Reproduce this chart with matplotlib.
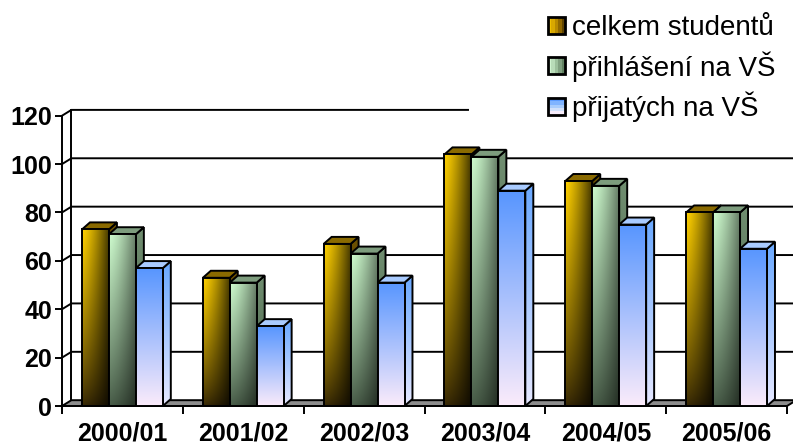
import numpy as np
import matplotlib
matplotlib.use('Agg')
import matplotlib.pyplot as plt
from matplotlib.patches import Polygon, Rectangle
from matplotlib.legend_handler import HandlerBase
from matplotlib.lines import Line2D

# ---------------- data ----------------
categories = ['2000/01', '2001/02', '2002/03', '2003/04', '2004/05', '2005/06']
celkem = [73, 53, 67, 104, 93, 80]
prihlaseni = [71, 51, 63, 103, 91, 80]
prijatych = [57, 33, 51, 89, 75, 65]
series_names = ['celkem studentů', 'přihlášení na VŠ', 'přijatých na VŠ']
yticks = [0, 20, 40, 60, 80, 100, 120]

plt.rcParams['font.family'] = ['Liberation Sans', 'DejaVu Sans']

# ---------------- style ----------------
BAR_W = 0.223
OFFS = [-0.223, 0.0, 0.223]
BDX, BDY = 0.066, 2.9     # bar depth (data units)
WDX, WDY = 0.078, 2.4     # wall depth (data units)
GRID_TOP_END = 2.86
LW = 1.4


def grad(top, bot, shade_amt=0.0, shade_pow=1.5, vpow=1.0):
    top = np.array(top) / 255.0
    bot = np.array(bot) / 255.0

    def f(U, V):
        t = (V ** vpow)[..., None]
        c = bot + (top - bot) * t
        s = 1 - shade_amt * U ** shade_pow
        return np.clip(c * s[..., None], 0, 1)
    return f


FRONT = [grad((255, 208, 0), (55, 40, 5), 0.72, 1.3, 0.8),
         grad((205, 250, 205), (72, 92, 72), 0.5, 1.4, 0.9),
         grad((88, 150, 255), (250, 235, 250), 0.0)]
SIDE = [grad((110, 82, 0), (45, 32, 0)),
        grad((112, 142, 112), (72, 95, 72)),
        grad((105, 168, 255), (230, 232, 255))]
TOPC = ['#8a6a00', '#7d9c7d', '#a9cbff']

fig = plt.figure(figsize=(7.93, 4.46), dpi=100)
ax = fig.add_axes([62 / 793, 1 - 406 / 446, 725 / 793, (406 - 115.7) / 446])


def shaded_poly(verts, func, z):
    poly = Polygon(verts, closed=True, facecolor='none', edgecolor='black',
                   linewidth=LW, zorder=z + 0.5, joinstyle='miter')
    ax.add_patch(poly)
    xs = [p[0] for p in verts]
    ys = [p[1] for p in verts]
    n = 64
    U, V = np.meshgrid(np.linspace(0, 1, n), np.linspace(1, 0, n))
    im = ax.imshow(func(U, V), extent=(min(xs), max(xs), min(ys), max(ys)),
                   origin='upper', aspect='auto', zorder=z,
                   interpolation='bilinear')
    im.set_clip_path(poly)


# back wall grid lines
for y in yticks[1:]:
    xend = GRID_TOP_END if y == yticks[-1] else 5.5 + WDX
    ax.plot([-0.5, -0.5 + WDX, xend], [y, y + WDY, y + WDY], color='black',
            lw=LW, clip_on=False, zorder=1, solid_joinstyle='miter')
ax.plot([-0.5 + WDX, -0.5 + WDX], [WDY, yticks[-1] + WDY], color='black',
        lw=LW, clip_on=False, zorder=1)

# floor
ax.add_patch(Polygon([(-0.5, 0), (5.5, 0), (5.5 + WDX, WDY), (-0.5 + WDX, WDY)],
                     closed=True, facecolor='#8c8c8c', edgecolor='black',
                     linewidth=LW, zorder=2, clip_on=False))

series = [celkem, prihlaseni, prijatych]
for i in range(len(categories)):
    for j, vals in enumerate(series):
        val = vals[i]
        xl = i + OFFS[j] - BAR_W / 2
        xr = xl + BAR_W
        z = 10 + i * 10 + j * 3
        shaded_poly([(xr, 0), (xr + BDX, BDY), (xr + BDX, val + BDY), (xr, val)],
                    SIDE[j], z)
        ax.add_patch(Polygon([(xl, val), (xr, val), (xr + BDX, val + BDY),
                              (xl + BDX, val + BDY)], closed=True,
                             facecolor=TOPC[j], edgecolor='black', linewidth=LW,
                             zorder=z + 1, joinstyle='miter'))
        shaded_poly([(xl, 0), (xr, 0), (xr, val), (xl, val)], FRONT[j], z + 2)

ax.set_xlim(-0.5, 5.5)
ax.set_ylim(0, 120)
for s in ['top', 'right']:
    ax.spines[s].set_visible(False)
for s in ['left', 'bottom']:
    ax.spines[s].set_linewidth(LW)
    ax.spines[s].set_zorder(3)
ax.set_yticks(yticks)
ax.set_yticklabels([str(t) for t in yticks], fontsize=18, fontweight='bold')
ax.tick_params(axis='y', length=5, width=LW, pad=2)
ax.set_xticks(range(len(categories)))
ax.set_xticklabels(categories, fontsize=18, fontweight='bold')
ax.set_xticks(np.arange(-0.5, len(categories), 1.0), minor=True)
ax.tick_params(axis='x', which='major', length=0, pad=11)
ax.tick_params(axis='x', which='minor', length=6, width=LW)
ax.set_facecolor('none')


# legend with gradient swatches
class GradHandler(HandlerBase):
    def __init__(self, cols, vertical=False):
        super().__init__()
        self.cols = cols
        self.vertical = vertical

    def create_artists(self, legend, orig_handle, xdescent, ydescent, width,
                       height, fontsize, trans):
        arts = []
        n = len(self.cols)
        side = min(width, height)
        x0 = -xdescent
        y0 = -ydescent + (height - side) / 2
        for k, c in enumerate(self.cols):
            if self.vertical:
                r = Rectangle((x0, y0 + side * (n - 1 - k) / n), side, side / n,
                              facecolor=c, edgecolor='none', transform=trans)
            else:
                r = Rectangle((x0 + side * k / n, y0), side / n, side,
                              facecolor=c, edgecolor='none', transform=trans)
            arts.append(r)
        arts.append(Rectangle((x0, y0), side, side, facecolor='none',
                              edgecolor='black', linewidth=2, transform=trans))
        return arts


h = [Line2D([], []), Line2D([], []), Line2D([], [])]
hmap = {
    h[0]: GradHandler(['#f0c000', '#d8a800', '#b88a00', '#906800', '#604400']),
    h[1]: GradHandler(['#d0f4d0', '#b8dcb8', '#9cc09c', '#80a080', '#628262']),
    h[2]: GradHandler(['#5c9cff', '#80b4ff', '#a8ccfc', '#d0e0fa', '#f6ecfa'],
                      vertical=True),
}
fig.legend(h, series_names, handler_map=hmap, loc='upper left',
           bbox_to_anchor=(548 / 793, 1 - 15 / 446), frameon=False,
           fontsize=20, handlelength=0.62, handleheight=0.62,
           handletextpad=0.25, labelspacing=0.36, borderpad=0, borderaxespad=0)

fig.savefig('out.png', dpi=100)
